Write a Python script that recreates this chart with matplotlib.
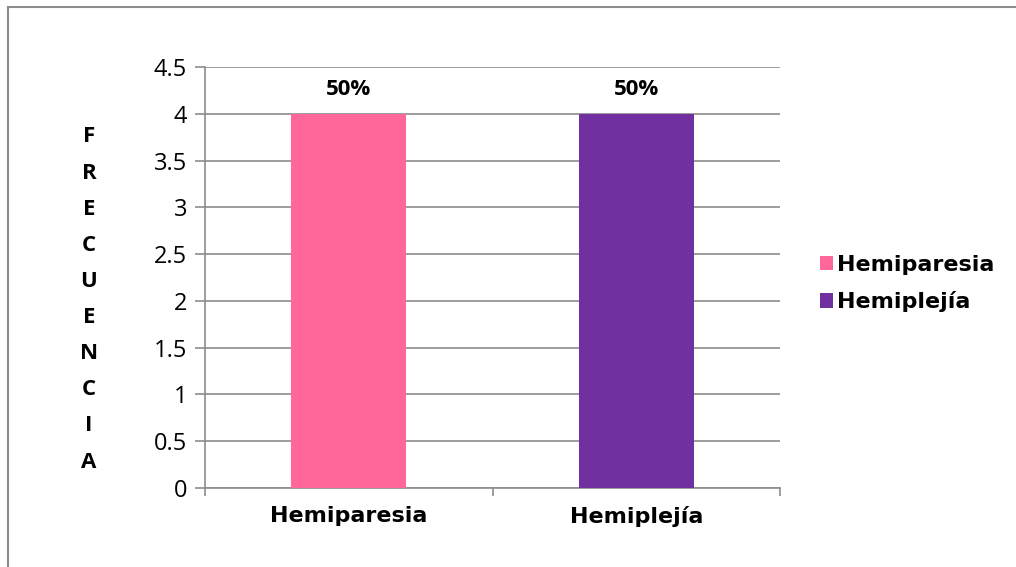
import matplotlib
matplotlib.use("Agg")
import matplotlib.pyplot as plt
from matplotlib.lines import Line2D
from matplotlib.patches import Patch

# datos
categorias = ["Hemiparesia", "Hemiplejía"]
frecuencia = [4, 4]
porcentajes = ["50%", "50%"]
colores = ["#FF6699", "#7030A0"]
yticks = [0, 0.5, 1, 1.5, 2, 2.5, 3, 3.5, 4, 4.5]
letras_eje = list("FRECUENCIA")

fig = plt.figure(figsize=(10.16, 5.67), dpi=100)
ax = fig.add_axes([0.2018, 0.1393, 0.5659, 0.7425])

x = list(range(len(categorias)))
barras = ax.bar(x, frecuencia, width=0.4, color=colores, zorder=3)
ax.bar_label(barras, labels=porcentajes, padding=10, fontsize=16,
             fontweight="bold", family="Open Sans")

ax.set_xlim(-0.5, 1.5)
ax.set_ylim(0, 4.5)
ax.set_yticks(yticks)
ax.set_yticklabels([f"{v:g}" for v in yticks], family="Open Sans", fontsize=17)
ax.yaxis.grid(True, color="#8c8c8c", linewidth=1.2, zorder=0)
ax.tick_params(axis="y", length=7, width=1.2, color="#8c8c8c", pad=6)

ax.set_xticks(x)
ax.set_xticklabels(categorias, family="DejaVu Sans", fontweight="bold", fontsize=16)
ax.set_xticks([-0.5, 0.5, 1.5], minor=True)
ax.tick_params(axis="x", which="major", length=0, pad=13)
ax.tick_params(axis="x", which="minor", length=6, width=1.2, color="#8c8c8c")

for lado in ["top", "right"]:
    ax.spines[lado].set_visible(False)
for lado in ["left", "bottom"]:
    ax.spines[lado].set_color("#8c8c8c")
    ax.spines[lado].set_linewidth(1.2)

# etiqueta vertical letra por letra
y0, y1 = 1 - 137 / 567, 1 - 462 / 567
paso = (y0 - y1) / (len(letras_eje) - 1)
for i, letra in enumerate(letras_eje):
    fig.text(89 / 1016, y0 - i * paso, letra, ha="center", va="center",
             fontsize=16, fontweight="bold", family="Open Sans")

# leyenda
handles = [Patch(facecolor=c, edgecolor="none") for c in colores]
fig.legend(handles, categorias, loc="center left", bbox_to_anchor=(0.787, 0.5),
           frameon=False, prop={"family": "DejaVu Sans", "weight": "bold", "size": 16},
           handlelength=0.6, handleheight=0.6, handletextpad=0.2, labelspacing=0.75)

# marco exterior
fig.add_artist(Line2D([8 / 1016, 8 / 1016], [0, 1 - 7 / 567], color="#8c8c8c", lw=1.5))
fig.add_artist(Line2D([8 / 1016, 1], [1 - 7 / 567, 1 - 7 / 567], color="#8c8c8c", lw=1.5))

fig.savefig("out.png", dpi=100)
